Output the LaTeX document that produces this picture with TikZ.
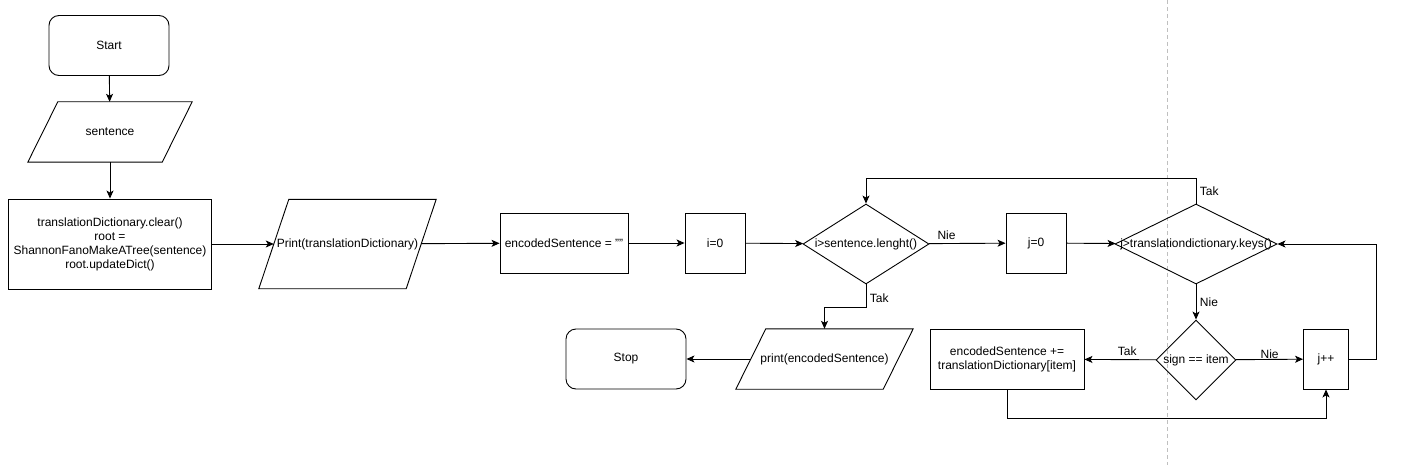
\documentclass[tikz,border=0pt]{standalone}
\usepackage{fontspec}
\setmainfont{Liberation Sans}
\usepackage{tikz}
\usetikzlibrary{arrows.meta}
\usetikzlibrary{shapes.geometric, positioning}
\tikzstyle{arrow} = [line width=0.9pt,-{Stealth[length=8pt,width=7pt,inset=2pt]}]
\tikzstyle{process} = [rectangle, draw=black, line width=0.9pt, inner sep=1pt, text centered, align=center]
\tikzstyle{startstop} = [process, rounded corners=10pt, minimum width=120pt, minimum height=60pt]
\tikzstyle{decision} = [diamond, draw=black, line width=0.9pt, inner sep=0pt]
\tikzstyle{branch} = [inner sep=3.5pt]
\tikzset{
	io slant/.store in=\ioSlant, io slant=30pt,
	io/.style = {rectangle, inner sep=0pt, align=center,
		append after command={\pgfextra{\draw [line width=0.9pt]
			([xshift=-\ioSlant/2] \tikzlastnode.south west) -- ([xshift= \ioSlant/2] \tikzlastnode.north west) --
			([xshift= \ioSlant/2] \tikzlastnode.north east) -- ([xshift=-\ioSlant/2] \tikzlastnode.south east) -- cycle;
		}},% end of append after command
	}
}

\begin{document}
\begin{tikzpicture}[x=1pt, y=-1pt, font=\fontsize{12pt}{14pt}\selectfont]
\useasboundingbox (0,0) rectangle (1407,465);
\draw [black!25, dashed, line width=0.6pt, dash pattern=on 4pt off 3pt] (1167,0) -- (1167,465);
%----------------------------------------------------------------------------
% Placement of flowcart nodes
\node (start) [startstop] at (109,45.5) {Start};
\node (sentence) [io, io slant=30pt, minimum width=134pt, minimum height=60pt] at (110,132) {sentence};
\node (makeDict) [process, minimum width=203pt, minimum height=90pt] at (110,244) {translationDictionary.clear()\\root =\\ShannonFanoMakeATree(sentence)\\root.updateDict()};
\node (printDict) [io, io slant=30pt, minimum width=147pt, minimum height=89pt] at (347.5,244) {Print(translationDictionary)};
\node (initCode) [process, minimum width=128pt, minimum height=60pt] at (564,243) {encodedSentence = ""};
\node (initI) [process, minimum width=60pt, minimum height=60pt] at (715,243) {i=0};
\node (checkI) [decision, minimum width=126pt, minimum height=80pt] at (866,244) {\makebox[0pt]{i>sentence.lenght()}};
\node (initJ) [process, minimum width=60pt, minimum height=60pt] at (1036,243) {j=0};
\node (checkJ) [decision, minimum width=162pt, minimum height=80pt] at (1196,244) {\makebox[0pt]{j>translationdictionary.keys()}};

\node (checkSign) [decision, minimum width=80pt, minimum height=80pt] at (1196,360) {\makebox[0pt]{sign == item}};
\node (incJ) [process, minimum width=45pt, minimum height=60pt] at (1326,359) {j++};
\node (addCode) [process, minimum width=154pt, minimum height=60pt] at (1007,359) {encodedSentence +=\\translationDictionary[item]};
\node (printCode) [io, io slant=20pt, minimum width=147pt, minimum height=60pt] at (824.5,359) {print(encodedSentence)};
\node (stop) [startstop] at (626,359) {Stop};

%----------------------------------------------------------------------------
% Lines
\draw [arrow] (start) -- (sentence);
\draw [arrow] (sentence) -- (makeDict);
\draw [arrow] (makeDict) -- (printDict);
\draw [arrow] (printDict) -- (initCode);
\draw [arrow] (initCode) -- (initI);
\draw [arrow] (initI) -- (checkI);
\draw [arrow] (checkI) -- node [branch, above, pos=0.23] {Nie} (initJ);
\draw [arrow] (initJ) -- (checkJ);

\draw [arrow] (checkJ.north) -- node [branch, right] {Tak} ++(0,-25) -| (checkI.north);
\draw [arrow] (checkJ) -- node [branch, right] {Nie} (checkSign);
\draw [arrow] (checkSign) -- node [branch, above, pos=0.4] {Tak} (addCode);
\draw [arrow] (checkSign) -- node [above, inner sep=0.5pt] {Nie} (incJ);
\draw [arrow] (incJ.east) -- ++(27,0) |- (checkJ.east);
\draw [arrow] (addCode.south) -- ++(0,29) -| (incJ.south);

\draw [arrow] (checkI.south) -- node [branch, right, pos=0.6] {Tak} ++(0,23) -| (printCode.north);
\draw [arrow] (printCode) -- (stop);

\end{tikzpicture}
\end{document}
